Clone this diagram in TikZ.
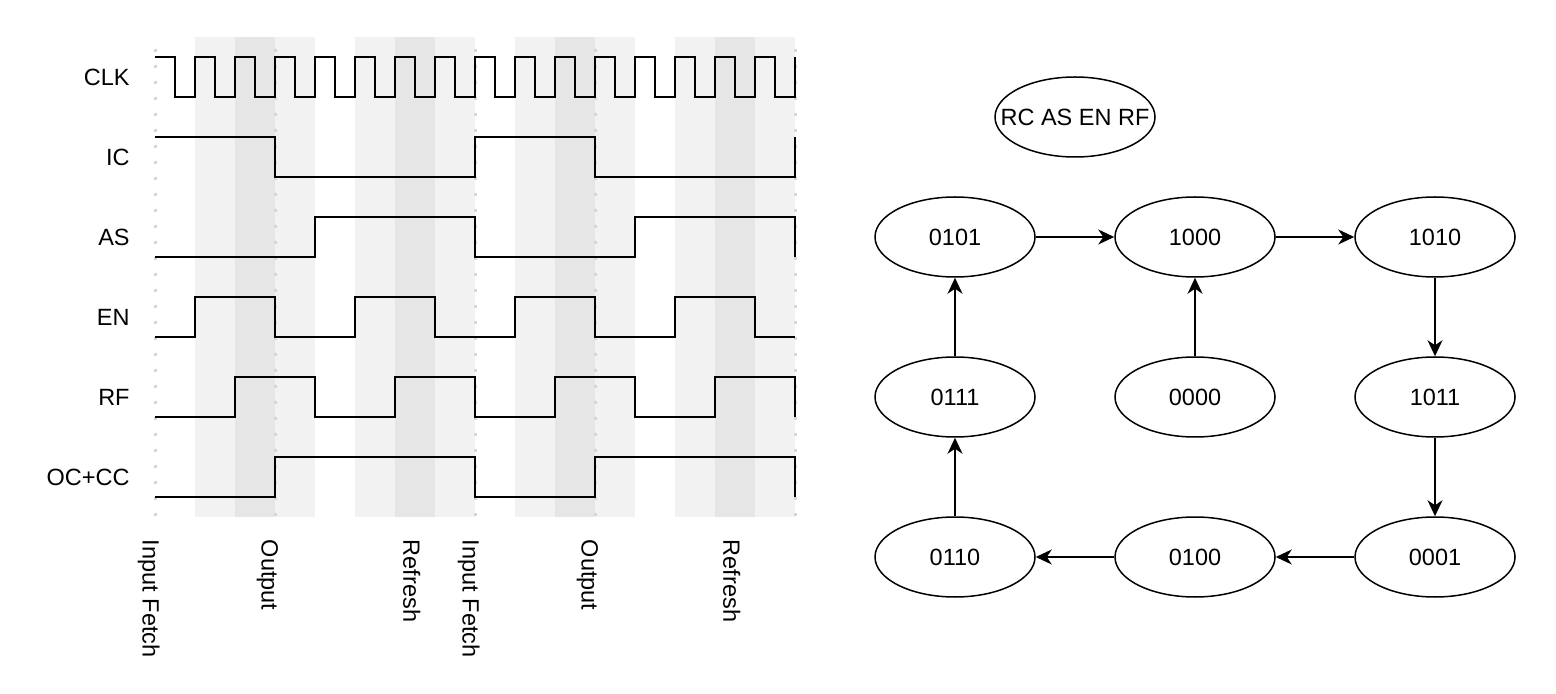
\documentclass[tikz,border=0pt]{standalone}
\usepackage{fontspec}
\setmainfont{Liberation Sans}
\usepackage{tikz}
\usetikzlibrary{arrows.meta,shapes.geometric}

\definecolor{bandlight}{HTML}{F2F2F2}
\definecolor{banddark}{HTML}{E6E6E6}
\definecolor{guidegray}{HTML}{D6D6D6}
\newcommand{\diagfont}{\fontsize{11.75pt}{14pt}\selectfont}

\begin{document}
\begin{tikzpicture}[x=0.5pt,y=-0.5pt,
    sig/.style={black, line width=1pt, line join=miter},
    guide/.style={guidegray, line width=1.5pt, dash pattern=on 1.5pt off 6.5pt},
    siglabel/.style={anchor=east, inner sep=0pt, font=\diagfont},
    phase/.style={rotate=-90, anchor=base west, inner sep=0pt, font=\diagfont},
    state/.style={ellipse, draw, line width=0.75pt, minimum width=80pt, minimum height=40pt, inner sep=0pt, font=\diagfont},
    flow/.style={-{Stealth[length=8pt,width=7.5pt,inset=2.5pt]}, line width=0.75pt}]

    \useasboundingbox (0,0) rectangle (1556,694);

    % shaded phases
    \foreach \x in {195,355,515,675} {
        \fill [bandlight] (\x,37) rectangle ({\x+120},517);
        \fill [banddark] ({\x+40},37) rectangle ({\x+80},517);
    }
    % guides
    \foreach \x in {155,275,475,595,795}
        \draw [guide] (\x,49) -- (\x,517);

    % labels
    \node [siglabel] (lclk) at (130,77) {CLK};
    \node [siglabel] (lic) at (130,157) {IC};
    \node [siglabel] (las) at (130,237) {AS};
    \node [siglabel] (len) at (130,317) {EN};
    \node [siglabel] (lrf) at (130,397) {RF};
    \node [siglabel] (locc) at (130,477) {OC+CC};

    % CLK
    \draw [sig] (155,57) foreach \x in {175,215,...,775} {
        -- (\x,57) -- (\x,97) -- ({\x+20},97) -- ({\x+20},57) };
    % IC
    \draw [sig] (155,137) -- (275,137) -- (275,177) -- (475,177) -- (475,137)
        -- (595,137) -- (595,177) -- (795,177) -- (795,137);
    % AS
    \draw [sig] (155,257) -- (315,257) -- (315,217) -- (475,217) -- (475,257)
        -- (635,257) -- (635,217) -- (795,217) -- (795,257);
    % EN
    \draw [sig] (155,337) -- (195,337) -- (195,297) -- (275,297) -- (275,337)
        -- (355,337) -- (355,297) -- (435,297) -- (435,337) -- (515,337)
        -- (515,297) -- (595,297) -- (595,337) -- (675,337) -- (675,297)
        -- (755,297) -- (755,337) -- (795,337);
    % RF
    \draw [sig] (155,417) -- (235,417) -- (235,377) -- (315,377) -- (315,417)
        -- (395,417) -- (395,377) -- (475,377) -- (475,417) -- (555,417)
        -- (555,377) -- (635,377) -- (635,417) -- (715,417) -- (715,377)
        -- (795,377) -- (795,417);
    % OC+CC
    \draw [sig] (155,497) -- (275,497) -- (275,457) -- (475,457) -- (475,497)
        -- (595,497) -- (595,457) -- (795,457) -- (795,497);

    % phase names
    \node [phase] (pin1) at (142.7,539.5) {Input Fetch};
    \node [phase] (pout1) at (261.7,539.5) {Output};
    \node [phase] (pref1) at (403.3,539.5) {Refresh};
    \node [phase] (pin2) at (462.7,539.5) {Input Fetch};
    \node [phase] (pout2) at (581.7,539.5) {Output};
    \node [phase] (pref2) at (723.3,539.5) {Refresh};

    % states
    \node [state] (key) at (1075,117) {\makebox[0pt]{RC AS EN RF}};
    \node [state] (s0101) at (955,237) {0101};
    \node [state] (s1000) at (1195,237) {1000};
    \node [state] (s1010) at (1435,237) {1010};
    \node [state] (s0111) at (955,397) {0111};
    \node [state] (s0000) at (1195,397) {0000};
    \node [state] (s1011) at (1435,397) {1011};
    \node [state] (s0110) at (955,557) {0110};
    \node [state] (s0100) at (1195,557) {0100};
    \node [state] (s0001) at (1435,557) {0001};

    % transitions
    \draw [flow] (s0101) -- (s1000);
    \draw [flow] (s1000) -- (s1010);
    \draw [flow] (s1010) -- (s1011);
    \draw [flow] (s1011) -- (s0001);
    \draw [flow] (s0001) -- (s0100);
    \draw [flow] (s0100) -- (s0110);
    \draw [flow] (s0110) -- (s0111);
    \draw [flow] (s0111) -- (s0101);
    \draw [flow] (s0000) -- (s1000);
\end{tikzpicture}
\end{document}
